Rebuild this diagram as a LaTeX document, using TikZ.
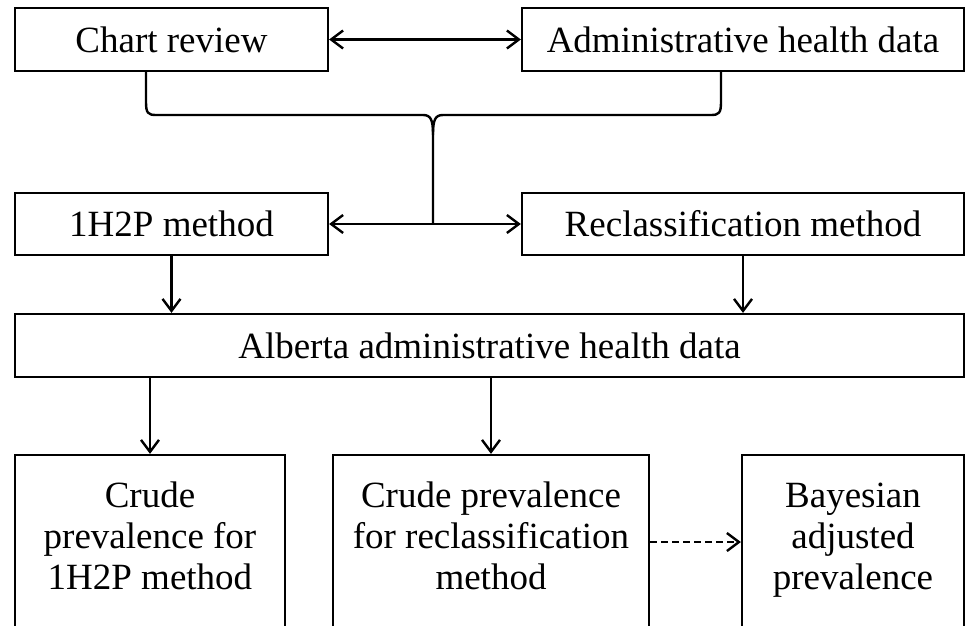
\documentclass[tikz,border=0pt]{standalone}
\usepackage{fontspec}
\setmainfont{Liberation Serif}
\usetikzlibrary{arrows.meta,positioning}

\tikzset{
  box/.style={rectangle, draw=black, line width=2.2pt, inner sep=0pt, align=center},
  tallbox/.style={box, minimum height=174pt, execute at begin node=\strut, execute at end node=\strut},
  barb/.tip={Straight Barb[length=12pt,width=18pt,line width=2.4pt]},
  flow/.style={line width=2.4pt, -barb},
  twoway/.style={line width=2.4pt, barb-barb}
}

\begin{document}
\begin{tikzpicture}[x=1pt, y=-1pt, font=\fontsize{37}{41}\selectfont]
  \clip (0,0) rectangle (966,626);

  \node (chart) [box, minimum width=313pt, minimum height=63pt] at (171.5,39.5) {Chart review};
  \node (admin) [box, minimum width=442pt, minimum height=63pt] at (743,39.5) {Administrative health data};

  \node (m1) [box, minimum width=313pt, minimum height=62pt] at (171.5,224) {1H2P method};
  \node (m2) [box, minimum width=442pt, minimum height=62pt] at (743,224) {Reclassification method};

  \node (alb) [box, minimum width=949pt, minimum height=63pt] at (489.5,345.5) {Alberta administrative health data};

  \node (c1) [tallbox, minimum width=270pt] at (150,542) {Crude\\prevalence for\\1H2P method};
  \node (c2) [tallbox, minimum width=316pt] at (491,542) {Crude prevalence\\for reclassification\\method};
  \node (c3) [tallbox, minimum width=222pt] at (853,542) {Bayesian\\adjusted\\prevalence};

  % brace joining the two data sources
  \coordinate (bl) at (146,71);
  \coordinate (br) at (721,71);
  \coordinate (tip) at (433,224);
  \draw [line width=2.4pt]
    (bl) -- (146,102) .. controls (146,113) and (148,115) .. (156,115) -- (423,115)
    .. controls (431,115) and (433,120) .. (433,135) -- (tip);
  \draw [line width=2.4pt]
    (br) -- (721,102) .. controls (721,113) and (719,115) .. (711,115) -- (443,115)
    .. controls (435,115) and (433,120) .. (433,135);

  \path
  (chart) edge [twoway] (admin)
  (m1) edge [twoway] (m2);

  \path
  (m1) edge [flow] (m1 |- alb.north)
  (m2) edge [flow] (m2 |- alb.north)
  (c1 |- alb.south) edge [flow] (c1)
  (c2 |- alb.south) edge [flow] (c2);

  \draw [flow, dash pattern=on 7pt off 4pt] (c2) -- (c3);
\end{tikzpicture}
\end{document}
